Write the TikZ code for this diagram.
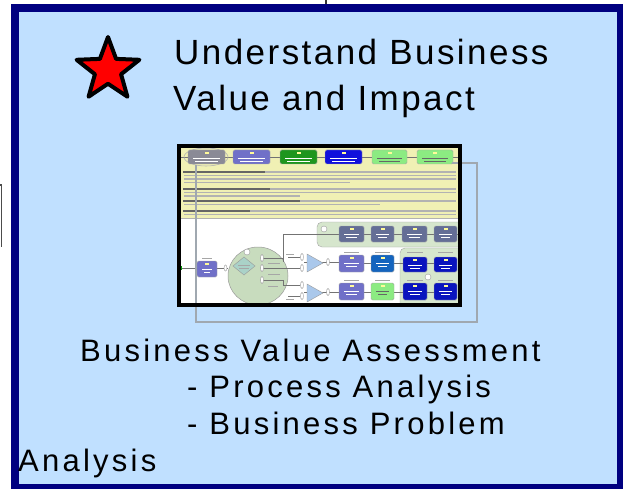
\documentclass[tikz,border=0pt]{standalone}
\usepackage{fontspec}
\setmainfont{Liberation Sans}
\newfontfamily\titlefont{Liberation Sans}[LetterSpace=7]
\newfontfamily\bodyfont{Liberation Sans}[LetterSpace=10.5]
\usetikzlibrary{shapes.geometric}

\definecolor{slidebg}{RGB}{192,224,255}
\definecolor{slidenavy}{RGB}{0,0,128}
\definecolor{shotyellow}{RGB}{240,240,180}
\definecolor{shotgray}{RGB}{138,138,150}
\definecolor{shotslate}{RGB}{112,112,200}
\definecolor{shotgreen}{RGB}{30,150,30}
\definecolor{shotblue}{RGB}{16,16,220}
\definecolor{shotlime}{RGB}{140,235,130}
\definecolor{shotsteel}{RGB}{100,110,150}
\definecolor{shotmid}{RGB}{20,100,190}
\definecolor{shotnavy}{RGB}{10,20,190}
\definecolor{shotband}{RGB}{214,230,205}
\definecolor{shotpool}{RGB}{200,220,190}
\definecolor{shotgate}{RGB}{170,200,235}
\definecolor{shotdiam}{RGB}{170,210,200}
\definecolor{connline}{RGB}{160,168,176}

\tikzset{
  shotbox/.style={draw=gray!70, line width=0.4pt, rounded corners=1.5pt},
  shotline/.style={draw=black!55, line width=0.5pt},
  txtline/.style={draw=black!30, line width=1.3pt},
  txtbold/.style={draw=black!60, line width=1.3pt},
  tagline/.style={draw=black!35, line width=0.6pt},
  shotoval/.style={draw=gray!80, fill=white, line width=0.4pt},
}

% one task box of the screenshot: x1 y1 x2 y2 fill textcolour
\newcommand{\shottask}[6]{%
  \draw[shotbox, fill=#5] (#1,#2) rectangle (#3,#4);
  \fill[yellow!40] ({(#1+#3)/2-2},{#2+2}) rectangle ({(#1+#3)/2+2},{#2+4});
  \draw[draw=#6, line width=0.6pt] ({#1+5},{#2+8}) -- ({#3-5},{#2+8}) ({#1+7},{#2+11}) -- ({#3-7},{#2+11});
}

\begin{document}
\begin{tikzpicture}[x=1pt,y=-1pt]
  \useasboundingbox (0,0) rectangle (623,489);
  \fill[white] (0,0) rectangle (623,489);
  % slide frame
  \draw[line width=8pt, draw=slidenavy, fill=slidebg] (15,8) rectangle (621,488);
  \draw[line width=1.5pt, black!80] (326,0) -- (326,4);
  \draw[line width=1.2pt, black!70] (0,185) -- (1.5,185) -- (1.5,247);

  % star and title
  \node[star, star points=5, star point ratio=2.4, minimum size=66pt, inner sep=0pt,
        draw=black, fill=red, line width=4pt, line join=round] (star) at (108,70) {};
  \node[anchor=base west, inner sep=0pt, font=\titlefont\fontsize{35}{42}\selectfont] (title1) at (174,65) {Understand Business};
  \node[anchor=base west, inner sep=0pt, font=\titlefont\fontsize{35}{42}\selectfont] (title2) at (173,111) {Value and Impact};

  % screenshot
  \begin{scope}
    \clip (179,146) rectangle (460,305);
    \fill[white] (179,146) rectangle (460,305);
    \fill[shotyellow] (179,146) rectangle (460,218);
    \draw[shotline] (181,157) -- (458,157);
    \draw[draw=gray!60, line width=0.6pt] (206,157) ellipse (22 and 9);
    \foreach \xa/\xb/\col/\ink in {188/225/shotgray/white, 233/270/shotslate/white, 280/317/shotgreen/white,
        325/362/shotblue/white, 372/407/shotlime/black!60, 417/453/shotlime/black!60}
      {\shottask{\xa}{150}{\xb}{164}{\col}{\ink}}
    % text of the yellow part
    \foreach \ya/\xa/\xb in {172/192/456, 175.5/184/456, 179/184/456, 182.5/184/350,
        189/192/456, 192.5/184/456, 196/184/300, 201/192/456, 204.5/184/380,
        211/184/456, 214.5/184/456}
      \draw[txtline] (\xa,\ya) -- (\xb,\ya);
    \foreach \ya/\xb in {172/265, 189/270, 201/300, 211/250}
      \draw[txtbold] (183,\ya) -- (\xb,\ya);
    \draw[draw=gray!60, line width=0.6pt] (179,218) -- (460,218);
    % upper lane
    \draw[shotbox, fill=shotband, rounded corners=5pt] (317,222) rectangle (470,247);
    \draw[shotoval] (324,229) circle (3);
    \draw[shotline] (317,234) -- (460,234);
    \foreach \xa/\xb in {339/364, 371/394, 402/427, 434/457}
      {\shottask{\xa}{226}{\xb}{242}{shotsteel}{white}}
    % lower lane
    \draw[shotbox, fill=shotband, rounded corners=5pt] (400,248) rectangle (470,315);
    \draw[shotline] (181,268) -- (228,268);
    \fill[green!60!black] (179,266) rectangle (182,270);
    \shottask{197}{261}{217}{277}{shotslate}{white}
    \draw[tagline] (202,258) -- (212,258);
    \draw[shotoval] (225.5,268) ellipse (1.5 and 3);
    \draw[draw=gray!80, fill=shotpool, line width=0.5pt] (258,276) ellipse (30 and 29);
    \draw[shotoval] (247,252) circle (3);
    \draw[draw=gray!80, fill=shotdiam, line width=0.4pt] (233,266) -- (244,257) -- (255,266) -- (244,275) -- cycle;
    \draw[tagline] (238,265) -- (250,265) (239,268) -- (249,268);
    \draw[shotline] (262,258) -- (283,258) (283,262) -- (283,234) -- (317,234);
    \draw[shotline] (262,268) -- (300,268) (262,280) -- (283,280) -- (283,285) -- (300,285);
    \foreach \ya in {258, 268, 280}
      \draw[shotoval] (262,\ya) ellipse (1.5 and 3.5);
    \draw[tagline] (268,263) -- (280,263) (268,274) -- (280,274) (268,286) -- (278,286);
    \draw[shotline] (288,257) -- (300,257) (288,296) -- (300,296);
    \draw[tagline] (286,254) -- (294,254) (286,299) -- (294,299);
    \foreach \ya in {257, 268, 285, 296}
      \draw[shotoval] (302,\ya) ellipse (1.5 and 3.5);
    \draw[shotline] (304,262) -- (339,262) (304,292) -- (339,292);
    \draw[draw=gray!80, fill=shotgate, line width=0.4pt] (307,254) -- (323,263) -- (307,272) -- cycle;
    \draw[draw=gray!80, fill=shotgate, line width=0.4pt] (307,284) -- (323,293) -- (307,302) -- cycle;
    \foreach \ya in {262, 292}
      \draw[shotoval] (328,\ya) ellipse (1.5 and 3.5);
    \draw[shotline] (364,263) -- (403,263) (364,292) -- (403,292) (427,263) -- (434,263) (427,292) -- (434,292);
    \shottask{339}{255}{364}{272}{shotslate}{white}
    \shottask{339}{283}{364}{300}{shotslate}{white}
    \shottask{371}{255}{394}{272}{shotmid}{white}
    \shottask{371}{283}{394}{300}{shotlime}{black!60}
    \foreach \xa/\xb in {403/427, 434/457}
      {\shottask{\xa}{257}{\xb}{272}{shotnavy}{white}
       \shottask{\xa}{283}{\xb}{300}{shotnavy}{white}}
    \draw[shotoval] (428,277) circle (3);
    \foreach \xa/\xb in {344/359, 375/390, 407/423, 438/453}
      \draw[tagline] (\xa,252) -- (\xb,252) (\xa,280) -- (\xb,280);
  \end{scope}
  % connector of the screenshot running outside it
  \draw[draw=connline, line width=1.2pt] (196,165) -- (196,322) -- (477,322) -- (477,163) -- (452,163);
  \draw[line width=4pt, black] (179,146) rectangle (460,305);

  % assessment text
  \node[anchor=base west, inner sep=0pt, font=\bodyfont\fontsize{31}{37}\selectfont] (assess) at (80,361) {Business Value Assessment};
  \node[anchor=base west, inner sep=0pt, font=\bodyfont\fontsize{31}{37}\selectfont] (step1) at (187,397) {- Process Analysis};
  \node[anchor=base west, inner sep=0pt, font=\bodyfont\fontsize{31}{37}\selectfont] (step2) at (187,434) {- Business Problem};
  \node[anchor=base west, inner sep=0pt, font=\bodyfont\fontsize{31}{37}\selectfont] (stepwrap) at (18,471) {Analysis};
\end{tikzpicture}
\end{document}
